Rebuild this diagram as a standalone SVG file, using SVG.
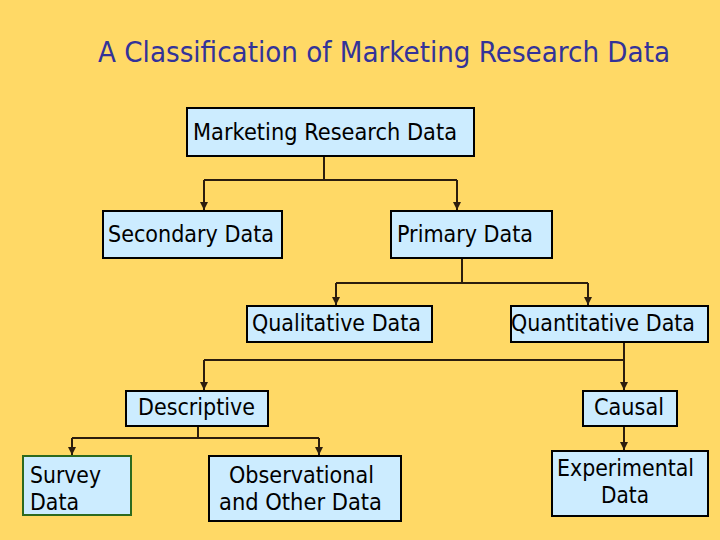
<svg xmlns="http://www.w3.org/2000/svg" width="720" height="540" viewBox="0 0 720 540">
<defs>
<marker id="arr" viewBox="0 0 10 10" refX="10" refY="5" markerWidth="4" markerHeight="4" orient="auto" markerUnits="strokeWidth">
<path d="M0,0 L10,5 L0,10 z" fill="#2b1d0e"/>
</marker>
<style>
.box{fill:#CCECFF;stroke:#000;stroke-width:2}
.green{stroke:#2d6a1e}
.t{font-family:"DejaVu Sans","Liberation Sans",sans-serif;font-size:23px;fill:#000}
.title{font-family:"DejaVu Sans Condensed","Liberation Sans",sans-serif;font-size:29px;fill:#333399}
.c{fill:none;stroke:#2b1d0e;stroke-width:2;marker-end:url(#arr)}
.l{fill:none;stroke:#2b1d0e;stroke-width:2}
</style>
</defs>
<rect width="720" height="540" fill="#FFD966"/>
<text class="title" x="98" y="62" textLength="572" lengthAdjust="spacingAndGlyphs">A Classification of Marketing Research Data</text>
<g id="connectors">
<path class="l" d="M324,157 V180 M204,180 H457 M462,259 V283 M336,283 H588 M624,343 V360 M204,360 H624 M198,427 V438 M72,438 H319 M624,427 V436"/>
<path class="c" d="M204,180 V210"/>
<path class="c" d="M457,180 V210"/>
<path class="c" d="M336,283 V305"/>
<path class="c" d="M588,283 V305"/>
<path class="c" d="M204,360 V390"/>
<path class="c" d="M624,360 V390"/>
<path class="c" d="M72,438 V455"/>
<path class="c" d="M319,438 V455"/>
<path class="c" d="M624,427 V450"/>
</g>
<g id="marketing-research-data">
<rect class="box" x="187" y="108" width="287" height="48"/>
<text class="t" x="193" y="140" textLength="264" lengthAdjust="spacingAndGlyphs">Marketing Research Data</text>
</g>
<g id="secondary-data">
<rect class="box" x="103" y="211" width="179" height="47"/>
<text class="t" x="108" y="242" textLength="166" lengthAdjust="spacingAndGlyphs">Secondary Data</text>
</g>
<g id="primary-data">
<rect class="box" x="391" y="211" width="161" height="47"/>
<text class="t" x="397" y="242" textLength="136" lengthAdjust="spacingAndGlyphs">Primary Data</text>
</g>
<g id="qualitative-data">
<rect class="box" x="247" y="306" width="185" height="36"/>
<text class="t" x="252" y="331" textLength="169" lengthAdjust="spacingAndGlyphs">Qualitative Data</text>
</g>
<g id="quantitative-data">
<rect class="box" x="511" y="306" width="197" height="36"/>
<text class="t" x="511" y="331" textLength="184" lengthAdjust="spacingAndGlyphs">Quantitative Data</text>
</g>
<g id="descriptive">
<rect class="box" x="126" y="391" width="142" height="35"/>
<text class="t" x="138" y="415" textLength="117" lengthAdjust="spacingAndGlyphs">Descriptive</text>
</g>
<g id="causal">
<rect class="box" x="583" y="391" width="94" height="35"/>
<text class="t" x="594" y="415" textLength="70" lengthAdjust="spacingAndGlyphs">Causal</text>
</g>
<g id="survey-data">
<rect class="box green" x="23" y="456" width="108" height="59"/>
<text class="t" x="30" y="483" textLength="71" lengthAdjust="spacingAndGlyphs">Survey</text>
<text class="t" x="30" y="510" textLength="49" lengthAdjust="spacingAndGlyphs">Data</text>
</g>
<g id="observational-data">
<rect class="box" x="209" y="456" width="192" height="65"/>
<text class="t" x="229" y="483" textLength="145" lengthAdjust="spacingAndGlyphs">Observational</text>
<text class="t" x="219" y="510" textLength="163" lengthAdjust="spacingAndGlyphs">and Other Data</text>
</g>
<g id="experimental-data">
<rect class="box" x="552" y="451" width="156" height="65"/>
<text class="t" x="557" y="476" textLength="137" lengthAdjust="spacingAndGlyphs">Experimental</text>
<text class="t" x="601" y="503" textLength="48" lengthAdjust="spacingAndGlyphs">Data</text>
</g>
</svg>
